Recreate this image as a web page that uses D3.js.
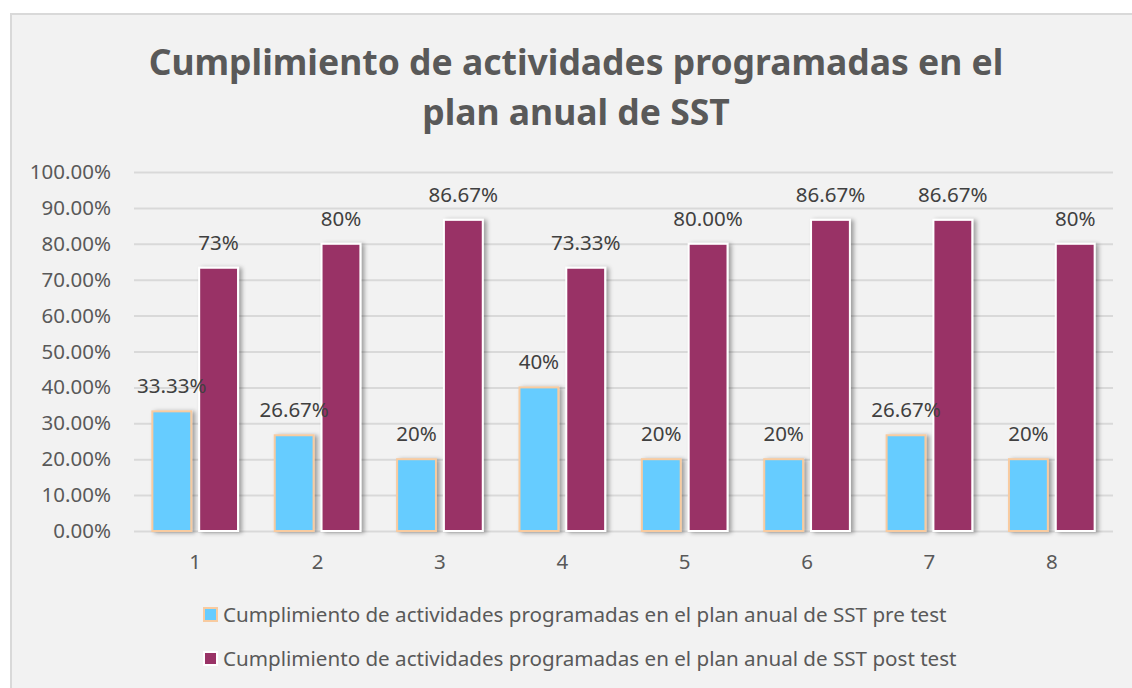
<!DOCTYPE html>
<head>
    <meta charset="utf-8">
    <title>Cumplimiento SST</title>
    <script type="text/javascript" src="https://d3js.org/d3.v7.min.js"></script>
    <style>
        body { margin: 0; background: #ffffff; }
        text { font-family: "Noto Sans", "Open Sans", sans-serif; fill: #595959; }
    </style>
</head>
<body>
    <div id="container"></div>

<script>
    //-----------------------------DATA-----------------------------//
    const categories = ["1", "2", "3", "4", "5", "6", "7", "8"];
    const preValues = [33.33, 26.67, 20, 40, 20, 20, 26.67, 20];
    const postValues = [73.33, 80, 86.67, 73.33, 80, 86.67, 86.67, 80];
    const preLabels = ["33.33%", "26.67%", "20%", "40%", "20%", "20%", "26.67%", "20%"];
    const postLabels = ["73%", "80%", "86.67%", "73.33%", "80.00%", "86.67%", "86.67%", "80%"];
    const yTicks = [0, 10, 20, 30, 40, 50, 60, 70, 80, 90, 100];
    const seriesNames = [
        "Cumplimiento de actividades programadas en el plan anual de SST pre test",
        "Cumplimiento de actividades programadas en el plan anual de SST post test"
    ];
    const titleLines = ["Cumplimiento de actividades programadas en el", "plan anual de SST"];

    //-----------------------------SVG------------------------------//
    const width = 1132;
    const height = 688;
    const plot = { left: 134, right: 1113, top: 172, bottom: 531 };

    const svg = d3.select("div#container").append("svg")
        .attr("width", width)
        .attr("height", height);

    const defs = svg.append("defs");
    const shadow = defs.append("filter")
        .attr("id", "shadow")
        .attr("x", "-20%").attr("y", "-5%")
        .attr("width", "160%").attr("height", "115%");
    shadow.append("feDropShadow")
        .attr("dx", 3).attr("dy", 1)
        .attr("stdDeviation", 2)
        .attr("flood-color", "#000")
        .attr("flood-opacity", 0.35);

    // chart area frame
    svg.append("rect")
        .attr("x", 11).attr("y", 14)
        .attr("width", width).attr("height", height)
        .style("fill", "#f2f2f2")
        .style("stroke", "#d9d9d9")
        .style("stroke-width", 2);

    //----------------------------SCALES----------------------------//
    const x0 = d3.scaleBand()
        .domain(categories)
        .range([plot.left, plot.right])
        .paddingInner(0.3)
        .paddingOuter(0.15);

    const x1 = d3.scaleBand()
        .domain(["pre", "post"])
        .range([0, x0.bandwidth()])
        .paddingInner(0.17);

    const y = d3.scaleLinear()
        .domain([0, 100])
        .range([plot.bottom, plot.top]);

    //-----------------------------TITLE----------------------------//
    svg.append("g").selectAll("text")
        .data(titleLines)
        .enter()
        .append("text")
        .attr("x", 576)
        .attr("y", function(d, i) { return 75 + i * 50; })
        .attr("text-anchor", "middle")
        .style("font-size", "35.5px")
        .style("font-weight", "bold")
        .text(function(d) { return d; });

    //-----------------------------AXES-----------------------------//
    const grid = svg.append("g")
        .attr("transform", "translate(" + plot.left + ",0)")
        .call(d3.axisLeft(y)
            .tickValues(yTicks)
            .tickSize(-(plot.right - plot.left))
            .tickFormat(""));
    grid.select(".domain").remove();
    grid.selectAll("line")
        .style("stroke", "#d9d9d9")
        .style("stroke-width", 2);

    const yAxis = svg.append("g")
        .attr("transform", "translate(111,0)")
        .call(d3.axisLeft(y)
            .tickValues(yTicks)
            .tickSize(0)
            .tickPadding(0)
            .tickFormat(function(d) { return d.toFixed(2) + "%"; }));
    yAxis.select(".domain").remove();
    yAxis.selectAll("text")
        .style("font-size", "20.5px")
        .style("fill", "#595959")
        .style("font-family", "'Noto Sans', sans-serif");

    const xAxis = svg.append("g")
        .attr("transform", "translate(0," + plot.bottom + ")")
        .call(d3.axisBottom(x0).tickSize(0).tickPadding(23));
    xAxis.select(".domain").remove();
    xAxis.selectAll("text")
        .style("font-size", "20.5px")
        .style("fill", "#595959")
        .style("font-family", "'Noto Sans', sans-serif");

    //-----------------------------BARS-----------------------------//
    const rows = categories.map(function(c, i) {
        return [
            { cat: c, key: "pre", value: preValues[i], label: preLabels[i] },
            { cat: c, key: "post", value: postValues[i], label: postLabels[i] }
        ];
    });

    const groups = svg.append("g").selectAll("g")
        .data(rows)
        .enter()
        .append("g")
        .attr("transform", function(d) { return "translate(" + x0(d[0].cat) + ",0)"; });

    groups.selectAll("rect")
        .data(function(d) { return d; })
        .enter()
        .append("rect")
        .attr("x", function(d) { return x1(d.key); })
        .attr("y", function(d) { return y(d.value); })
        .attr("width", x1.bandwidth())
        .attr("height", function(d) { return y(0) - y(d.value); })
        .attr("filter", "url(#shadow)")
        .style("fill", function(d) { return d.key === "pre" ? "#66ccff" : "#993366"; })
        .style("stroke", function(d) { return d.key === "pre" ? "#f8cba0" : "#ffffff"; })
        .style("stroke-width", 2);

    groups.selectAll("text")
        .data(function(d) { return d; })
        .enter()
        .append("text")
        .attr("x", function(d) { return x1(d.key) + x1.bandwidth() / 2; })
        .attr("y", function(d) { return y(d.value) - 18; })
        .attr("text-anchor", "middle")
        .style("font-size", "20.5px")
        .style("fill", "#404040")
        .text(function(d) { return d.label; });

    //----------------------------LEGEND----------------------------//
    const legend = svg.append("g").selectAll("g")
        .data(seriesNames)
        .enter()
        .append("g")
        .attr("transform", function(d, i) { return "translate(204," + (608 + i * 44) + ")"; });

    legend.append("rect")
        .attr("width", 13).attr("height", 13)
        .style("fill", function(d, i) { return i === 0 ? "#66ccff" : "#993366"; })
        .style("stroke", function(d, i) { return i === 0 ? "#f8cba0" : "#ffffff"; })
        .style("stroke-width", 2);

    legend.append("text")
        .attr("x", 19)
        .attr("y", 14)
        .style("font-size", "20.6px")
        .text(function(d) { return d; });
</script>
</body>
